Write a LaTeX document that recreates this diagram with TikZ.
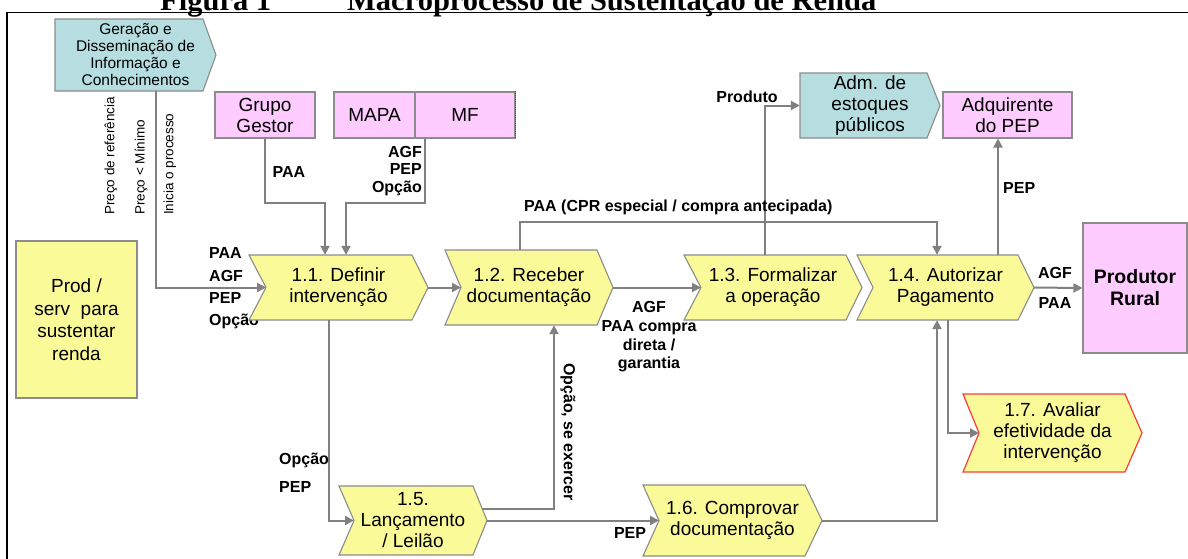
\documentclass[tikz,border=0pt]{standalone}
\usepackage{fontspec}
\setmainfont{Liberation Sans}
\newfontfamily\titlefont{Liberation Serif}
\usetikzlibrary{arrows.meta}
\definecolor{yel}{RGB}{250,250,152}
\definecolor{pnk}{RGB}{255,204,255}
\definecolor{tea}{RGB}{182,222,224}
\definecolor{bord}{RGB}{140,140,140}
\definecolor{arrc}{RGB}{128,128,128}
\definecolor{redb}{RGB}{255,60,60}
\newcommand\chevfont{\fontsize{19}{21}\selectfont}
% #1 name, #2 x1, #3 y1, #4 x2, #5 y2, #6 notch depth, #7 tip depth, #8 style, #9 text
\newcommand\chev[9]{%
  \pgfmathsetmacro\chevW{#4-#2}%
  \pgfmathsetmacro\chevH{#5-#3}%
  \draw[#8] (#2,#3) -- (#4-#7,#3) -- (#4,{(#3+#5)/2}) -- (#4-#7,#5) -- (#2,#5) -- (#2+#6,{(#3+#5)/2}) -- cycle;
  \node[inner sep=0pt, minimum width=\chevW pt, minimum height=\chevH pt, align=center, font=\chevfont] (#1) at ({(#2+#4)/2},{(#3+#5)/2}) {#9};
  \coordinate (#1-in) at (#2+#6,{(#3+#5)/2});
}
\begin{document}
\begin{tikzpicture}[x=1pt,y=-1pt,
  arr/.style={draw=arrc, line width=2pt, -{Triangle[length=9pt,width=9pt]}},
  line/.style={draw=arrc, line width=2pt},
  proc/.style={fill=yel, draw=bord, line width=1.1pt},
  procred/.style={fill=yel, draw=redb, line width=1.2pt},
  tealbox/.style={fill=tea, draw=bord, line width=1.1pt},
  pinkbox/.style={fill=pnk, draw=bord, line width=1.1pt, inner sep=0pt, align=center, font=\fontsize{19}{21}\selectfont},
  yelbox/.style={fill=yel, draw=bord, line width=1.1pt, inner sep=0pt, align=center},
  lbl/.style={font=\bfseries\fontsize{16}{18.5}\selectfont, inner sep=0pt},
  rot/.style={rotate=90, font=\fontsize{13.5}{15}\selectfont, inner sep=0pt}]
\useasboundingbox (0,0) rectangle (1188,558);
\clip (0,0) rectangle (1188,558);
\fill[white] (0,0) rectangle (1188,558);

% title (cut off at top)
\node[anchor=base west, inner sep=0pt, font=\titlefont\bfseries\fontsize{30.5}{32}\selectfont] (fig) at (160,10) {Figura 1};
\node[anchor=base west, inner sep=0pt, font=\titlefont\bfseries\fontsize{30.5}{32}\selectfont] (ttl) at (347,10) {Macroprocesso de Sustentação de Renda};
\draw[line width=1.6pt] (7,560) -- (7,12.5) -- (1190,12.5);

% labels partly covered by 1.1
\node[lbl, anchor=west, align=left, font=\bfseries\fontsize{16}{22.3}\selectfont] (l11) at (209,288.5) {PAA\\AGF\\PEP\\Opção};

% process shapes
\chev{n11}{249}{255}{428}{320}{17}{16}{proc}{1.1. Definir\\intervenção}
\chev{n12}{445}{250}{613}{325}{16}{16}{proc}{1.2. Receber\\documentação}
\chev{n13}{684}{255}{862}{320}{17}{16}{proc}{1.3. Formalizar\\a operação}
\chev{n14}{857}{255}{1034}{320}{16}{16}{proc}{1.4. Autorizar\\Pagamento}
\chev{n15}{339}{486}{487}{555}{15}{14}{proc}{1.5.\\Lançamento\\/ Leilão}
\chev{n16}{643}{485}{822}{556}{16}{17}{proc}{1.6. Comprovar\\documentação}
\chev{n17}{963}{394}{1142}{472}{16}{17}{procred}{1.7. Avaliar\\efetividade da\\intervenção}
\chev{adm}{800}{73}{940}{138}{0}{13}{tealbox}{Adm. de\\estoques\\públicos}
\renewcommand\chevfont{\fontsize{15.5}{17}\selectfont}
\chev{gera}{55}{19}{216}{91}{0}{13}{tealbox}{Geração e\\Disseminação de\\Informação e\\Conhecimentos}

% boxes
\node[pinkbox, minimum width=100pt, minimum height=46pt] (grupo) at (265,115) {Grupo\\Gestor};
\node[pinkbox, minimum width=81pt, minimum height=46pt] (mapa) at (374.5,115) {MAPA};
\node[pinkbox, minimum width=100pt, minimum height=46pt] (mf) at (465,115) {MF};
\draw[black!70, densely dotted, line width=1pt] (mf.north east) -- (mf.south east);
\node[pinkbox, minimum width=129pt, minimum height=46pt] (adq) at (1007.5,115) {Adquirente\\do PEP};
\node[yelbox, minimum width=121pt, minimum height=157pt, font=\fontsize{19}{22.5}\selectfont] (prod) at (76.5,319.5) {Prod /\\serv\ \ para\\sustentar\\renda};
\node[pinkbox, minimum width=104pt, minimum height=130pt, font=\bfseries\fontsize{19.5}{22}\selectfont] (rural) at (1135,288) {Produtor\\Rural};

% connectors
\draw[arr] ([xshift=20.5pt]gera.south) |- (n11-in);
\draw[arr] (grupo.south) -- (grupo.south |- 0,203) -| ([xshift=-13.5pt]n11.north);
\draw[arr] ([xshift=-40pt]mf.south) -- ([xshift=-40pt]mf.south |- 0,203) -| ([xshift=7.5pt]n11.north);
\draw[arr] (n11.east) -- (n12-in);
\draw[arr] ([xshift=-9pt]n12.north) -- ([xshift=-9pt]n12.north |- 0,222) -| ([xshift=-8.5pt]n14.north);
\draw[arr] (n12.east) -- (n13-in);
\draw[arr] ([xshift=-8pt]n13.north) |- (adm.west);
\draw[arr] ([xshift=52.5pt]n14.north) -- ([xshift=52.5pt]n14.north |- adq.south);
\draw[arr] (n14.east) -- (rural.west);
\draw[arr] ([xshift=2.5pt]n14.south) |- (n17-in);
\draw[arr] (n16.east) -| ([xshift=-8.5pt]n14.south);
\draw[arr] ([xshift=-9.5pt]n11.south) |- (n15-in);
\coordinate (n15-up) at (482,509);
\draw[arr] (n15-up) -| ([xshift=25pt]n12.south);
\draw[arr] (n15.east) -- (n16-in);

% labels
\node[rot, anchor=west] (r1) at (111,215) {Preço de referência};
\node[rot, anchor=west] (r2) at (141,215) {Preço < Mínimo};
\node[rot, anchor=west] (r3) at (170,215) {Inicia o processo};
\node[lbl] (lpaa) at (289,172) {PAA};
\node[lbl, anchor=east, align=right, font=\bfseries\fontsize{16}{17.5}\selectfont] (lmf) at (422,171) {AGF\\PEP\\Opção};
\node[lbl, anchor=west] (lcpr) at (524,207) {PAA (CPR especial / compra antecipada)};
\node[lbl] (lprod) at (747,97) {Produto};
\node[lbl, align=center, font=\bfseries\fontsize{16}{18.7}\selectfont] (l23) at (649,337) {AGF\\PAA compra\\direta /\\garantia};
\node[lbl, anchor=west] (lpep) at (1003,188) {PEP};
\node[lbl] (lagf) at (1055,273) {AGF};
\node[lbl] (lpaa2) at (1055,303) {PAA};
\node[lbl, anchor=west] (lop) at (279,460) {Opção};
\node[lbl, anchor=west] (lpep2) at (279,487) {PEP};
\node[lbl, rotate=-90] (lse) at (568,432) {Opção, se exercer};
\node[lbl] (lpep3) at (630,533) {PEP};
\end{tikzpicture}
\end{document}
